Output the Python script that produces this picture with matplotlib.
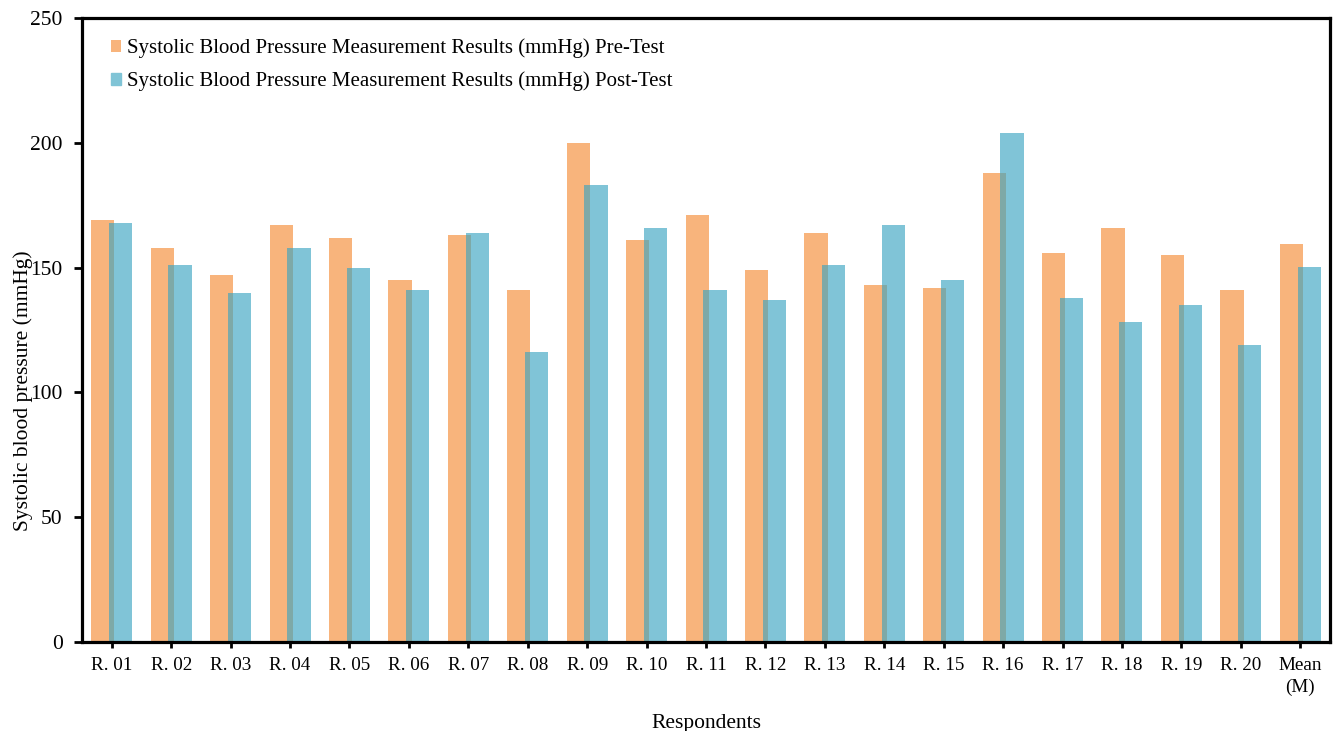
import numpy as np
import matplotlib.pyplot as plt

plt.rcParams['font.family'] = ['Liberation Serif', 'DejaVu Serif']

respondents = ["R. 01", "R. 02", "R. 03", "R. 04", "R. 05", "R. 06", "R. 07",
               "R. 08", "R. 09", "R. 10", "R. 11", "R. 12", "R. 13", "R. 14",
               "R. 15", "R. 16", "R. 17", "R. 18", "R. 19", "R. 20", "Mean\n(M)"]
pre_test = [169, 158, 147, 167, 162, 145, 163, 141, 200, 161, 171,
            149, 164, 143, 142, 188, 156, 166, 155, 141, 159.4]
post_test = [168, 151, 140, 158, 150, 141, 164, 116, 183, 166, 141,
             137, 151, 167, 145, 204, 138, 128, 135, 119, 150.1]

pre_color = "#F8B47C"
post_color = "#39A4C1"  # drawn semi-transparent so the overlap darkens

fig = plt.figure(figsize=(13.36, 7.31), dpi=100)
ax = fig.add_axes([0.0614, 0.1218, 0.9341, 0.8536])

x = np.arange(len(respondents))
width = 0.39
offset = 0.15

ax.bar(x - offset, pre_test, width, color=pre_color,
       label="Systolic Blood Pressure Measurement Results (mmHg) Pre-Test")
ax.bar(x + offset, post_test, width, color=post_color, alpha=0.64,
       label="Systolic Blood Pressure Measurement Results (mmHg) Post-Test")

ax.set_xlim(-0.5, len(respondents) - 0.5)
ax.set_ylim(0, 250)
ax.set_yticks([0, 50, 100, 150, 200, 250])
ax.set_xticks(x)
ax.set_xticklabels(respondents, fontsize=13.8, linespacing=1.35)
ax.tick_params(axis='y', labelsize=15.5, direction='out', length=6, width=2, pad=8)
ax.tick_params(axis='x', direction='out', length=4, width=2, pad=7)

for s in ax.spines.values():
    s.set_linewidth(2.3)
    s.set_color("black")

ax.set_ylabel("Systolic blood pressure (mmHg)", fontsize=15.5)
ax.yaxis.set_label_coords(-0.039, 0.402)
ax.set_xlabel("Respondents", fontsize=15.5, labelpad=13)

leg = ax.legend(loc="upper left", bbox_to_anchor=(0.023, 0.967), frameon=False,
                fontsize=15, handlelength=0.5, handleheight=0.5,
                handletextpad=0.3, labelspacing=0.62, borderpad=0,
                borderaxespad=0)
for h in leg.legend_handles:
    h.set_alpha(1.0)
leg.legend_handles[1].set_color("#80C4D6")

fig.savefig("out.png", dpi=100)
